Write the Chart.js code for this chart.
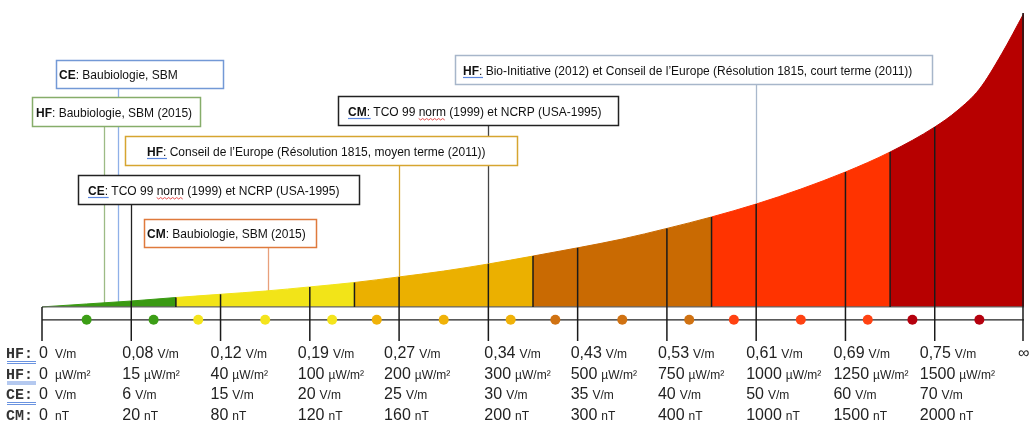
<!DOCTYPE html>
<html>
<head>
<meta charset="utf-8">
<style>
html,body{margin:0;padding:0;background:#fff}
#wrap{width:1029px;height:422px;position:relative}
</style>
</head>
<body>
<div id="wrap"><canvas id="c"></canvas></div>
<script src="https://cdn.jsdelivr.net/npm/chart.js"></script>
<script>
// exposure curve, position on the scale (0..11) vs relative level (% of top)
const curveX = [0, 0.5, 1, 1.5, 2, 2.5, 3, 3.5, 4, 4.5, 5, 5.5, 6, 6.5, 7, 7.5, 8, 8.5, 9, 9.5, 10, 10.25, 10.5, 10.75, 11];
const curveY = [0, 1.0, 2.0, 3.2, 4.3, 5.4, 6.8, 8.3, 10.2, 12.2, 14.6, 17.3, 20.1, 23.1, 26.7, 30.6, 35.0, 40.1, 45.9, 52.7, 61.2, 66.7, 74.1, 86.1, 100];
const bandEdges = [0, 1.5, 3.5, 5.5, 7.5, 9.5, 11];
const bandColors = ['#3a9a12', '#f2e418', '#ebb000', '#c96a02', '#ff3300', '#b70000'];
const dotX = [0.5, 1.25, 1.75, 2.5, 3.25, 3.75, 4.5, 5.25, 5.75, 6.5, 7.25, 7.75, 8.5, 9.25, 9.75, 10.5];
const dotBand = [0, 0, 1, 1, 1, 2, 2, 2, 3, 3, 3, 4, 4, 4, 5, 5];
const dotColors = ['#3c9e16', '#f4e41c', '#f0b208', '#d07212', '#ff4212', '#b5000e'];

// tick labels
const hfVm = ['0', '0,08', '0,12', '0,19', '0,27', '0,34', '0,43', '0,53', '0,61', '0,69', '0,75', '\u221e'];
const hfUw = ['0', '15', '40', '100', '200', '300', '500', '750', '1000', '1250', '1500'];
const ceVm = ['0', '6', '15', '20', '25', '30', '35', '40', '50', '60', '70'];
const cmNt = ['0', '20', '80', '120', '160', '200', '300', '400', '1000', '1500', '2000'];
const rowPrefix = ['HF', 'HF', 'CE', 'CM'];
const rowUnits = ['V/m', '\u00b5W/m\u00b2', 'V/m', 'nT'];

// recommendations and where they sit on the scale
const notes = [
    { tag: 'CE', text: ': Baubiologie, SBM', at: 0.85 },
    { tag: 'HF', text: ': Baubiologie, SBM (2015)', at: 0.7 },
    { tag: 'HF', text: ': Conseil de l\u2019Europe (R\u00e9solution 1815, moyen terme (2011))', at: 4 },
    { tag: 'CE', text: ': TCO 99 norm (1999) et NCRP (USA-1995)', at: 1 },
    { tag: 'CM', text: ': Baubiologie, SBM (2015)', at: 2.53 },
    { tag: 'CM', text: ': TCO 99 norm (1999) et NCRP (USA-1995)', at: 5 },
    { tag: 'HF', text: ': Bio-Initiative (2012) et Conseil de l\u2019Europe (R\u00e9solution 1815, court terme (2011))', at: 8 }
];

// box layout (pixels) and styles, same order as notes
const noteBoxes = [
    { x: 56, y: 60, w: 167, h: 28, tx: 59, border: '#7399d6', line: '#8fb0e8', spell: false },
    { x: 32, y: 97, w: 168, h: 29, tx: 36, border: '#86ad6a', line: '#9dbb85', spell: false },
    { x: 125, y: 136, w: 392, h: 29, tx: 147, border: '#d6a530', line: '#d6a530', spell: true },
    { x: 78, y: 175, w: 281, h: 29, tx: 88, border: '#222222', line: '#222222', spell: true },
    { x: 144, y: 219, w: 172, h: 28, tx: 147, border: '#df7a3c', line: '#e8a07c', spell: false },
    { x: 338, y: 96, w: 280, h: 29, tx: 348, border: '#222222', line: '#444444', spell: true },
    { x: 455, y: 55, w: 477, h: 29, tx: 463, border: '#a7b6ca', line: '#a9b8cc', spell: true }
];
const colShift = [-3, -9, -10, -12, -15, -4, -7, -9, -10, -12, -15, -6];
const dotLevel = -4.4;

function bandColor(x) {
    for (let b = 0; b < bandColors.length; b++) {
        if (x < bandEdges[b + 1]) return bandColors[b];
    }
    return bandColors[bandColors.length - 1];
}

const curveSet = {
    data: curveX.map(function (x, i) { return { x: x, y: curveY[i] }; }),
    backgroundColor: bandColors[0],
    borderColor: bandColors[0],
    borderWidth: 1,
    fill: 'origin',
    pointRadius: 0,
    cubicInterpolationMode: 'monotone',
    segment: {
        backgroundColor: function (c) { return bandColor(c.p0.parsed.x); },
        borderColor: function (c) { return bandColor(c.p0.parsed.x); }
    }
};

const dotSet = {
    type: 'scatter',
    data: dotX.map(function (x) { return { x: x, y: dotLevel }; }),
    backgroundColor: dotBand.map(function (b) { return dotColors[b]; }),
    pointRadius: 5,
    pointBorderWidth: 0,
    showLine: false,
    fill: false
};

function levelAt(x) {
    const i = curveX.indexOf(x);
    return i >= 0 ? curveY[i] : 0;
}

const scaleDecor = {
    id: 'scaleDecor',
    beforeDatasetsDraw(chart) {
        const ctx = chart.ctx, xs = chart.scales.x, ys = chart.scales.y;
        const a = chart.chartArea;
        ctx.save();
        // leader lines (fill hides the part under the curve)
        notes.forEach(function (n, k) {
            const bx = noteBoxes[k];
            const px = Math.round(xs.getPixelForValue(n.at)) + 0.5;
            ctx.strokeStyle = bx.line;
            ctx.lineWidth = 1.3;
            ctx.beginPath();
            ctx.moveTo(px, bx.y + bx.h);
            ctx.lineTo(px, ys.getPixelForValue(0));
            ctx.stroke();
        });
        // row line for the dots
        ctx.strokeStyle = '#222';
        ctx.lineWidth = 1.2;
        ctx.beginPath();
        ctx.moveTo(a.left, ys.getPixelForValue(dotLevel));
        ctx.lineTo(a.right, ys.getPixelForValue(dotLevel));
        ctx.stroke();
        ctx.restore();
    },
    afterDatasetsDraw(chart) {
        const ctx = chart.ctx, xs = chart.scales.x, ys = chart.scales.y;
        const a = chart.chartArea;
        ctx.save();
        // baseline
        ctx.strokeStyle = '#666';
        ctx.lineWidth = 1.2;
        ctx.beginPath();
        ctx.moveTo(a.left, ys.getPixelForValue(0));
        ctx.lineTo(a.right, ys.getPixelForValue(0));
        ctx.stroke();
        // band separators
        ctx.strokeStyle = '#1a1a1a';
        ctx.lineWidth = 1.5;
        bandEdges.slice(1, -1).forEach(function (e) {
            const px = xs.getPixelForValue(e);
            ctx.beginPath();
            ctx.moveTo(px, ys.getPixelForValue(levelAt(e)));
            ctx.lineTo(px, ys.getPixelForValue(0));
            ctx.stroke();
        });
        // ticks
        for (let i = 0; i <= 11; i++) {
            const px = Math.min(xs.getPixelForValue(i), a.right - 1);
            ctx.beginPath();
            ctx.moveTo(px, ys.getPixelForValue(levelAt(i)));
            ctx.lineTo(px, a.bottom);
            ctx.stroke();
        }
        ctx.restore();
    },
    afterDraw(chart) {
        const ctx = chart.ctx, xs = chart.scales.x;
        const a = chart.chartArea;
        const rows = [hfVm, hfUw, ceVm, cmNt];
        ctx.save();
        ctx.textBaseline = 'alphabetic';
        ctx.textAlign = 'left';

        // boxes
        notes.forEach(function (n, k) {
            const bx = noteBoxes[k];
            ctx.fillStyle = '#fff';
            ctx.fillRect(bx.x, bx.y, bx.w, bx.h);
            ctx.strokeStyle = bx.border;
            ctx.lineWidth = 1.5;
            ctx.strokeRect(bx.x + 0.5, bx.y + 0.5, bx.w, bx.h);
            const base = bx.y + bx.h / 2 + 5;
            ctx.fillStyle = '#111';
            ctx.font = 'bold 12px "Liberation Sans", Arial, sans-serif';
            ctx.fillText(n.tag, bx.tx, base);
            const tw = ctx.measureText(n.tag).width;
            if (bx.spell) {
                ctx.strokeStyle = '#5b86de';
                ctx.lineWidth = 1.2;
                ctx.beginPath();
                ctx.moveTo(bx.tx, base + 3);
                ctx.lineTo(bx.tx + tw + 4, base + 3);
                ctx.stroke();
            }
            ctx.font = '12px "Liberation Sans", Arial, sans-serif';
            ctx.fillText(n.text, bx.tx + tw, base);
            const w = n.text.indexOf('norm');
            if (w >= 0) {
                const sx = bx.tx + tw + ctx.measureText(n.text.slice(0, w)).width;
                const sw = ctx.measureText('norm').width;
                ctx.strokeStyle = '#e02020';
                ctx.lineWidth = 0.8;
                ctx.beginPath();
                for (let p = 0; p <= sw; p += 2) {
                    ctx.lineTo(sx + p, base + 3 + (p % 4 === 0 ? 0 : 1.5));
                }
                ctx.stroke();
            }
        });

        // label table under the scale
        rows.forEach(function (vals, r) {
            const base = a.bottom + 17 + r * 20.5;
            ctx.font = 'bold 15px "Liberation Mono", "Courier New", monospace';
            ctx.fillStyle = '#333';
            ctx.fillText(rowPrefix[r] + ':', 6, base);
            ctx.strokeStyle = '#6a93e0';
            ctx.lineWidth = 1;
            ctx.beginPath();
            ctx.moveTo(7, base + 3.5); ctx.lineTo(36, base + 3.5);
            ctx.moveTo(7, base + 5.5); ctx.lineTo(36, base + 5.5);
            ctx.stroke();
            vals.forEach(function (v, i) {
                const x = xs.getPixelForValue(i) + colShift[i];
                ctx.fillStyle = '#222';
                ctx.font = '16px "Liberation Sans", Arial, sans-serif';
                ctx.fillText(v, x, base);
                if (v === '\u221e') return;
                const ux = i === 0 ? a.left + 13 : x + ctx.measureText(v).width + 4;
                ctx.font = '12px "Liberation Sans", Arial, sans-serif';
                ctx.fillText(rowUnits[r], ux, base);
            });
        });
        ctx.restore();
    }
};

new Chart('c', {
    type: 'line',
    data: {
        datasets: [dotSet, curveSet]
    },
    options: {
        responsive: true,
        maintainAspectRatio: false,
        animation: false,
        layout: { padding: { left: 42, right: 3, top: 13, bottom: 81 } },
        plugins: {
            legend: { display: false },
            tooltip: { enabled: false }
        },
        scales: {
            x: { type: 'linear', min: 0, max: 11, display: false },
            y: { type: 'linear', min: -11.6, max: 100, display: false }
        }
    },
    plugins: [scaleDecor]
});
</script>
</body>
</html>
